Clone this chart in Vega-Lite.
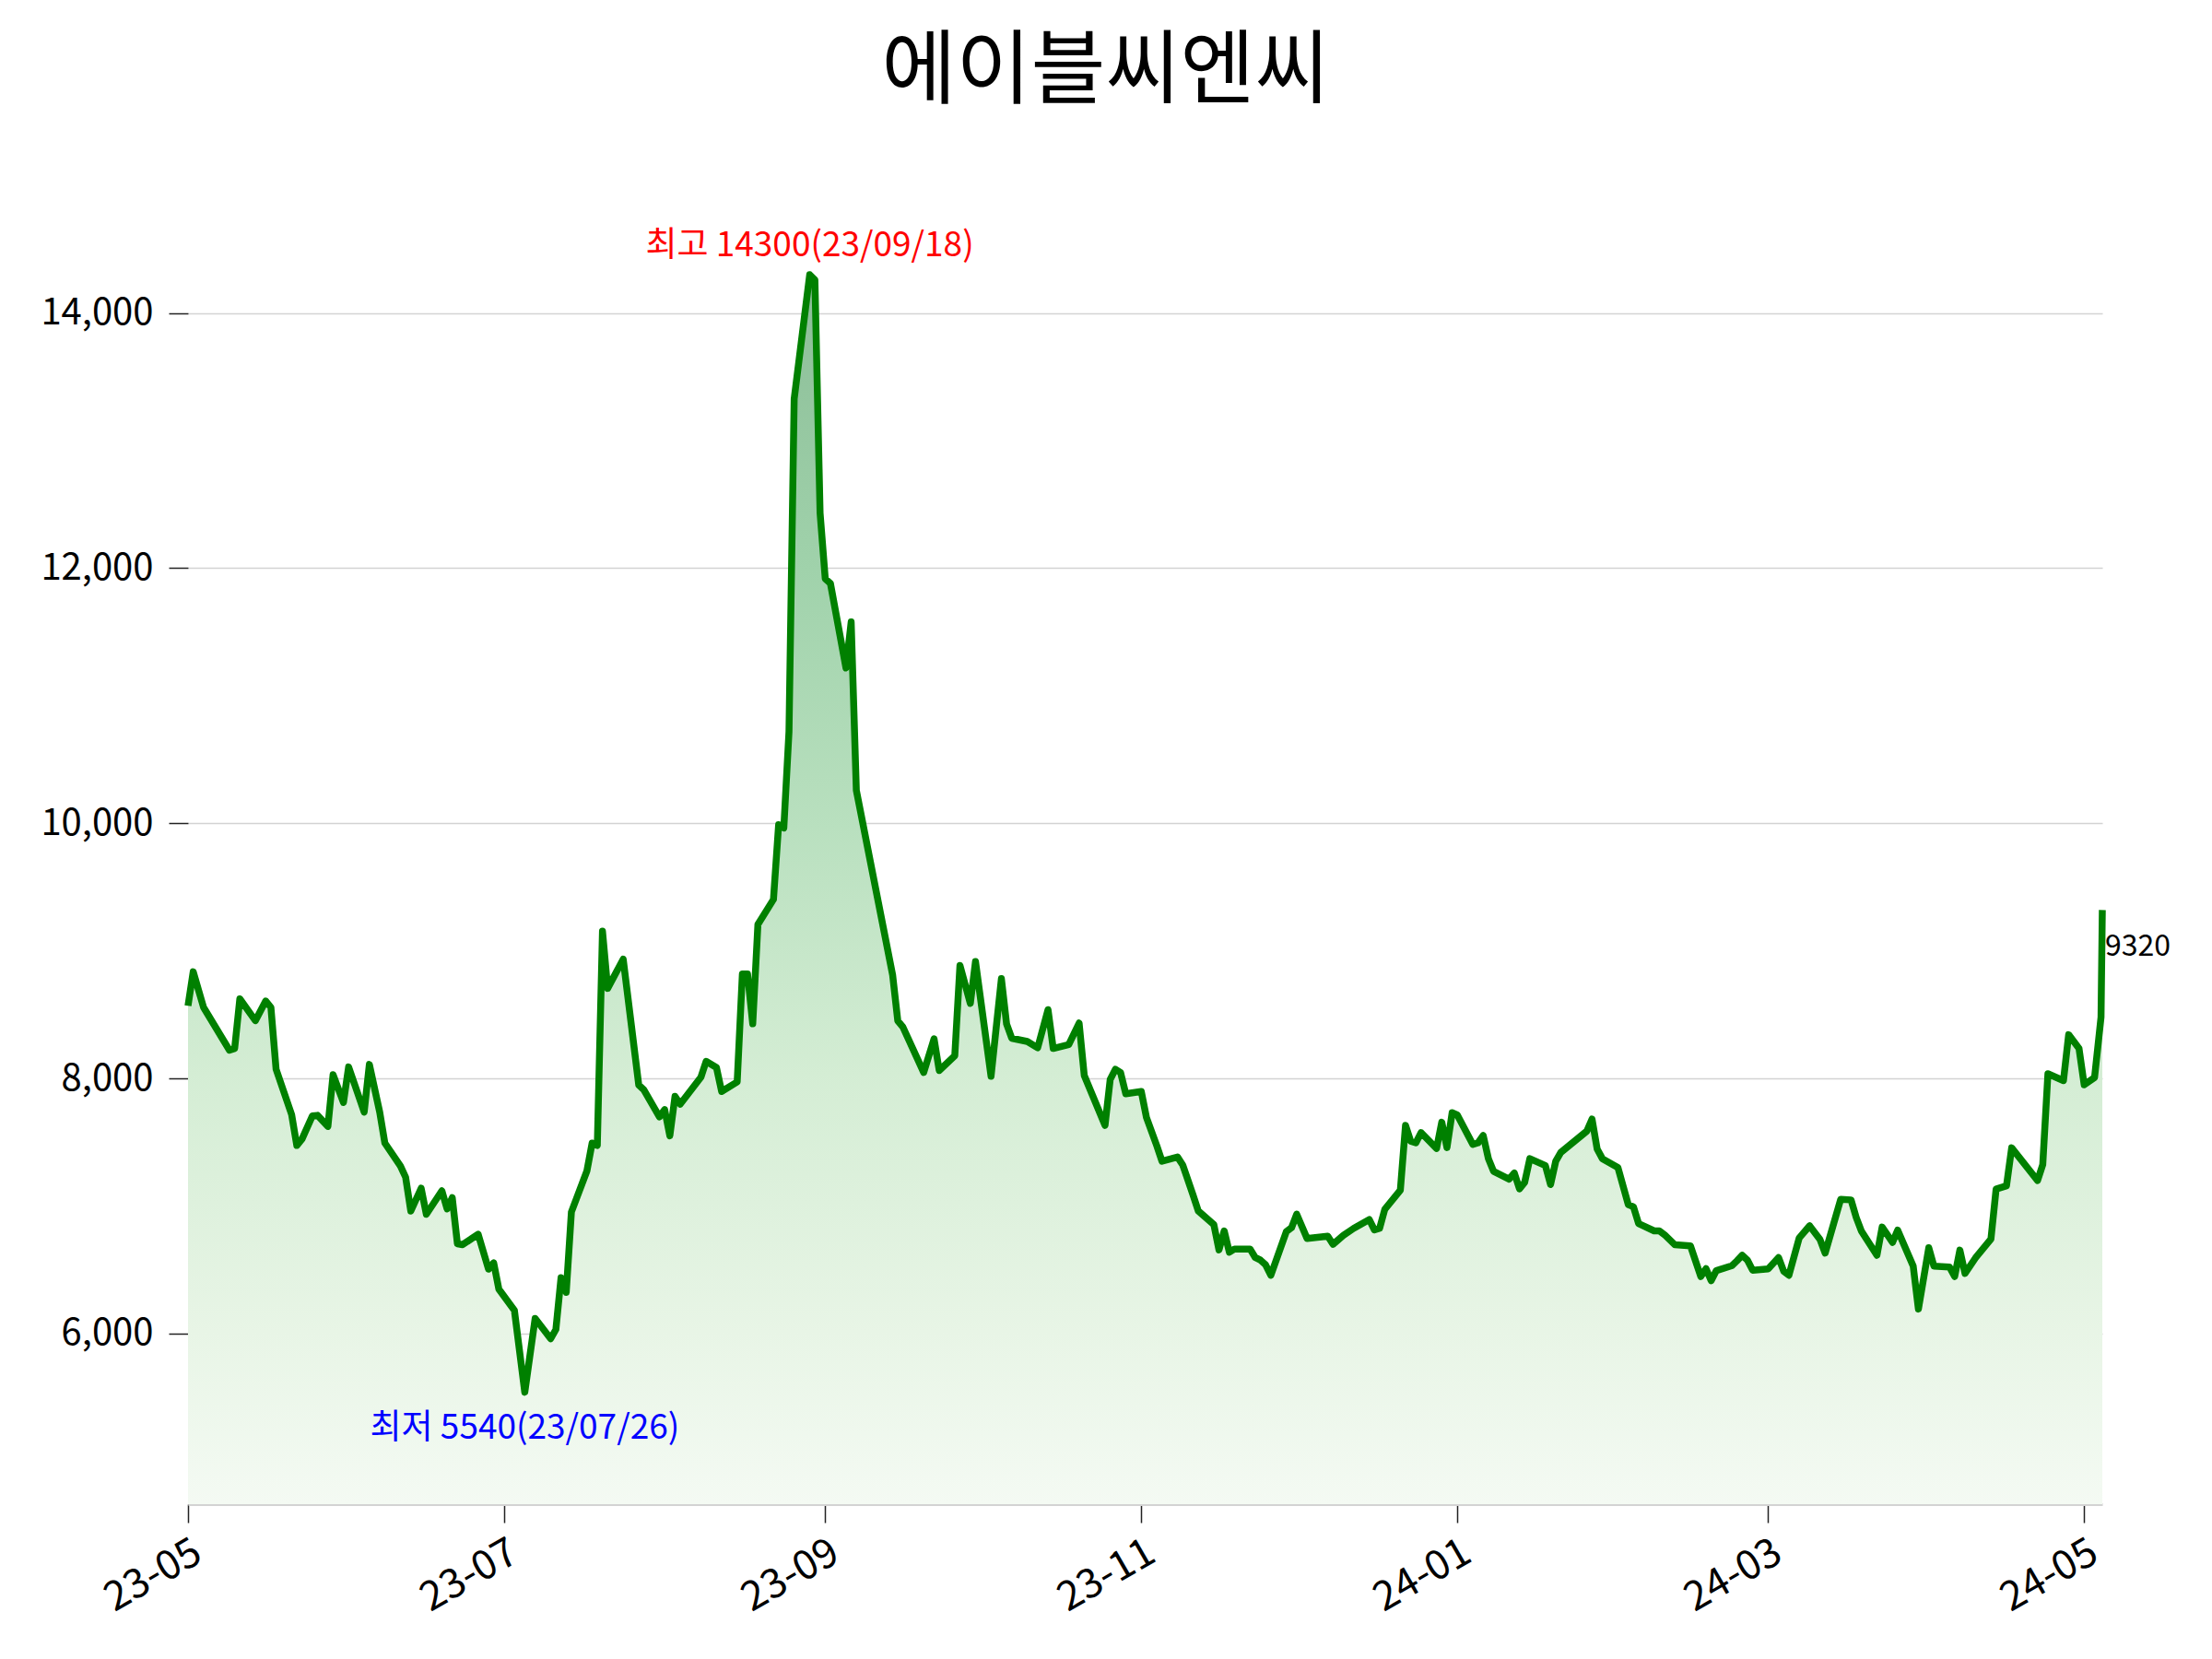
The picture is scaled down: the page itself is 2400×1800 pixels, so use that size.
{
  "$schema": "https://vega.github.io/schema/vega-lite/v6.json",
  "width": 2077,
  "height": 1417,
  "autosize": {"type": "none"},
  "padding": {"left": 204, "top": 215, "right": 119, "bottom": 168},
  "background": "white",
  "title": {
    "text": "에이블씨엔씨",
    "font": "Noto Sans CJK KR",
    "fontSize": 88,
    "fontWeight": "normal",
    "color": "black",
    "anchor": "middle",
    "frame": "bounds",
    "offset": 92
  },
  "config": {"view": {"stroke": null}, "font": "Noto Sans CJK KR"},
  "datasets": {
    "prices": [
      {"date": "2023-05-01", "price": 8570},
      {"date": "2023-05-02", "price": 8836},
      {"date": "2023-05-04", "price": 8557},
      {"date": "2023-05-09", "price": 8221},
      {"date": "2023-05-10", "price": 8234},
      {"date": "2023-05-11", "price": 8624},
      {"date": "2023-05-14", "price": 8453},
      {"date": "2023-05-16", "price": 8607},
      {"date": "2023-05-17", "price": 8557},
      {"date": "2023-05-18", "price": 8072},
      {"date": "2023-05-21", "price": 7716},
      {"date": "2023-05-22", "price": 7475},
      {"date": "2023-05-23", "price": 7525},
      {"date": "2023-05-25", "price": 7706},
      {"date": "2023-05-26", "price": 7711},
      {"date": "2023-05-28", "price": 7624},
      {"date": "2023-05-29", "price": 8030},
      {"date": "2023-05-31", "price": 7811},
      {"date": "2023-06-01", "price": 8090},
      {"date": "2023-06-04", "price": 7736},
      {"date": "2023-06-05", "price": 8110},
      {"date": "2023-06-07", "price": 7736},
      {"date": "2023-06-08", "price": 7493},
      {"date": "2023-06-11", "price": 7313},
      {"date": "2023-06-12", "price": 7226},
      {"date": "2023-06-13", "price": 6960},
      {"date": "2023-06-15", "price": 7139},
      {"date": "2023-06-16", "price": 6935},
      {"date": "2023-06-19", "price": 7119},
      {"date": "2023-06-20", "price": 6978},
      {"date": "2023-06-21", "price": 7065},
      {"date": "2023-06-22", "price": 6704},
      {"date": "2023-06-23", "price": 6697},
      {"date": "2023-06-26", "price": 6779},
      {"date": "2023-06-28", "price": 6505},
      {"date": "2023-06-29", "price": 6555},
      {"date": "2023-06-30", "price": 6348},
      {"date": "2023-07-03", "price": 6182},
      {"date": "2023-07-05", "price": 5540},
      {"date": "2023-07-07", "price": 6119},
      {"date": "2023-07-10", "price": 5960},
      {"date": "2023-07-11", "price": 6032},
      {"date": "2023-07-12", "price": 6438},
      {"date": "2023-07-13", "price": 6323},
      {"date": "2023-07-14", "price": 6953},
      {"date": "2023-07-17", "price": 7276},
      {"date": "2023-07-18", "price": 7493},
      {"date": "2023-07-19", "price": 7475},
      {"date": "2023-07-20", "price": 9154},
      {"date": "2023-07-21", "price": 8706},
      {"date": "2023-07-24", "price": 8935},
      {"date": "2023-07-27", "price": 7948},
      {"date": "2023-07-28", "price": 7910},
      {"date": "2023-07-31", "price": 7699},
      {"date": "2023-08-01", "price": 7756},
      {"date": "2023-08-02", "price": 7550},
      {"date": "2023-08-03", "price": 7860},
      {"date": "2023-08-04", "price": 7798},
      {"date": "2023-08-08", "price": 8010},
      {"date": "2023-08-09", "price": 8134},
      {"date": "2023-08-11", "price": 8085},
      {"date": "2023-08-12", "price": 7898},
      {"date": "2023-08-15", "price": 7973},
      {"date": "2023-08-16", "price": 8818},
      {"date": "2023-08-17", "price": 8818},
      {"date": "2023-08-18", "price": 8428},
      {"date": "2023-08-19", "price": 9207},
      {"date": "2023-08-22", "price": 9403},
      {"date": "2023-08-23", "price": 9989},
      {"date": "2023-08-24", "price": 9963},
      {"date": "2023-08-25", "price": 10719},
      {"date": "2023-08-26", "price": 13326},
      {"date": "2023-08-29", "price": 14300},
      {"date": "2023-08-30", "price": 14259},
      {"date": "2023-08-31", "price": 12433},
      {"date": "2023-09-01", "price": 11917},
      {"date": "2023-09-02", "price": 11880},
      {"date": "2023-09-05", "price": 11217},
      {"date": "2023-09-06", "price": 11578},
      {"date": "2023-09-07", "price": 10258},
      {"date": "2023-09-14", "price": 8812},
      {"date": "2023-09-15", "price": 8452},
      {"date": "2023-09-16", "price": 8402},
      {"date": "2023-09-20", "price": 8047},
      {"date": "2023-09-22", "price": 8310},
      {"date": "2023-09-23", "price": 8062},
      {"date": "2023-09-26", "price": 8178},
      {"date": "2023-09-27", "price": 8886},
      {"date": "2023-09-29", "price": 8588},
      {"date": "2023-09-30", "price": 8916},
      {"date": "2023-10-03", "price": 8017},
      {"date": "2023-10-05", "price": 8782},
      {"date": "2023-10-06", "price": 8427},
      {"date": "2023-10-07", "price": 8315},
      {"date": "2023-10-10", "price": 8290},
      {"date": "2023-10-12", "price": 8240},
      {"date": "2023-10-14", "price": 8539},
      {"date": "2023-10-15", "price": 8235},
      {"date": "2023-10-18", "price": 8265},
      {"date": "2023-10-20", "price": 8434},
      {"date": "2023-10-21", "price": 8022},
      {"date": "2023-10-25", "price": 7632},
      {"date": "2023-10-26", "price": 7992},
      {"date": "2023-10-27", "price": 8072},
      {"date": "2023-10-28", "price": 8047},
      {"date": "2023-10-29", "price": 7880},
      {"date": "2023-11-01", "price": 7898},
      {"date": "2023-11-02", "price": 7694},
      {"date": "2023-11-04", "price": 7471},
      {"date": "2023-11-05", "price": 7351},
      {"date": "2023-11-08", "price": 7384},
      {"date": "2023-11-09", "price": 7322},
      {"date": "2023-11-11", "price": 7085},
      {"date": "2023-11-12", "price": 6961},
      {"date": "2023-11-15", "price": 6855},
      {"date": "2023-11-16", "price": 6656},
      {"date": "2023-11-17", "price": 6805},
      {"date": "2023-11-18", "price": 6638},
      {"date": "2023-11-19", "price": 6663},
      {"date": "2023-11-22", "price": 6663},
      {"date": "2023-11-23", "price": 6596},
      {"date": "2023-11-24", "price": 6576},
      {"date": "2023-11-25", "price": 6539},
      {"date": "2023-11-26", "price": 6457},
      {"date": "2023-11-29", "price": 6800},
      {"date": "2023-11-30", "price": 6830},
      {"date": "2023-12-01", "price": 6936},
      {"date": "2023-12-03", "price": 6745},
      {"date": "2023-12-07", "price": 6763},
      {"date": "2023-12-08", "price": 6700},
      {"date": "2023-12-10", "price": 6770},
      {"date": "2023-12-12", "price": 6825},
      {"date": "2023-12-15", "price": 6894},
      {"date": "2023-12-16", "price": 6812},
      {"date": "2023-12-17", "price": 6825},
      {"date": "2023-12-18", "price": 6974},
      {"date": "2023-12-21", "price": 7123},
      {"date": "2023-12-22", "price": 7632},
      {"date": "2023-12-23", "price": 7508},
      {"date": "2023-12-24", "price": 7495},
      {"date": "2023-12-25", "price": 7575},
      {"date": "2023-12-28", "price": 7451},
      {"date": "2023-12-29", "price": 7657},
      {"date": "2023-12-30", "price": 7458},
      {"date": "2023-12-31", "price": 7731},
      {"date": "2024-01-01", "price": 7714},
      {"date": "2024-01-04", "price": 7483},
      {"date": "2024-01-05", "price": 7495},
      {"date": "2024-01-06", "price": 7553},
      {"date": "2024-01-07", "price": 7371},
      {"date": "2024-01-08", "price": 7272},
      {"date": "2024-01-11", "price": 7210},
      {"date": "2024-01-12", "price": 7259},
      {"date": "2024-01-13", "price": 7135},
      {"date": "2024-01-14", "price": 7185},
      {"date": "2024-01-15", "price": 7371},
      {"date": "2024-01-18", "price": 7317},
      {"date": "2024-01-19", "price": 7168},
      {"date": "2024-01-20", "price": 7351},
      {"date": "2024-01-21", "price": 7421},
      {"date": "2024-01-26", "price": 7587},
      {"date": "2024-01-27", "price": 7682},
      {"date": "2024-01-28", "price": 7446},
      {"date": "2024-01-29", "price": 7371},
      {"date": "2024-02-01", "price": 7302},
      {"date": "2024-02-03", "price": 7011},
      {"date": "2024-02-04", "price": 6994},
      {"date": "2024-02-05", "price": 6862},
      {"date": "2024-02-08", "price": 6805},
      {"date": "2024-02-09", "price": 6805},
      {"date": "2024-02-10", "price": 6775},
      {"date": "2024-02-12", "price": 6696},
      {"date": "2024-02-15", "price": 6688},
      {"date": "2024-02-17", "price": 6447},
      {"date": "2024-02-18", "price": 6509},
      {"date": "2024-02-19", "price": 6415},
      {"date": "2024-02-20", "price": 6494},
      {"date": "2024-02-23", "price": 6532},
      {"date": "2024-02-24", "price": 6571},
      {"date": "2024-02-25", "price": 6614},
      {"date": "2024-02-26", "price": 6576},
      {"date": "2024-02-27", "price": 6497},
      {"date": "2024-03-01", "price": 6507},
      {"date": "2024-03-03", "price": 6596},
      {"date": "2024-03-04", "price": 6489},
      {"date": "2024-03-05", "price": 6457},
      {"date": "2024-03-07", "price": 6750},
      {"date": "2024-03-09", "price": 6845},
      {"date": "2024-03-11", "price": 6738},
      {"date": "2024-03-12", "price": 6631},
      {"date": "2024-03-15", "price": 7053},
      {"date": "2024-03-17", "price": 7048},
      {"date": "2024-03-18", "price": 6910},
      {"date": "2024-03-19", "price": 6803},
      {"date": "2024-03-22", "price": 6614},
      {"date": "2024-03-23", "price": 6835},
      {"date": "2024-03-25", "price": 6715},
      {"date": "2024-03-26", "price": 6811},
      {"date": "2024-03-29", "price": 6528},
      {"date": "2024-03-30", "price": 6192},
      {"date": "2024-04-01", "price": 6673},
      {"date": "2024-04-02", "price": 6528},
      {"date": "2024-04-05", "price": 6522},
      {"date": "2024-04-06", "price": 6447},
      {"date": "2024-04-07", "price": 6654},
      {"date": "2024-04-08", "price": 6472},
      {"date": "2024-04-10", "price": 6592},
      {"date": "2024-04-13", "price": 6741},
      {"date": "2024-04-14", "price": 7133},
      {"date": "2024-04-16", "price": 7158},
      {"date": "2024-04-17", "price": 7456},
      {"date": "2024-04-22", "price": 7200},
      {"date": "2024-04-23", "price": 7324},
      {"date": "2024-04-24", "price": 8037},
      {"date": "2024-04-27", "price": 7983},
      {"date": "2024-04-28", "price": 8343},
      {"date": "2024-04-30", "price": 8236},
      {"date": "2024-05-01", "price": 7950},
      {"date": "2024-05-03", "price": 8007},
      {"date": "2024-05-04T06:00:00Z", "price": 8480},
      {"date": "2024-05-04T12:00:00Z", "price": 9320}
    ]
  },
  "data": {"name": "prices"},
  "encoding": {
    "x": {
      "field": "date",
      "type": "temporal",
      "scale": {
        "type": "utc",
        "nice": false,
        "domain": [
          {"year": 2023, "month": 5, "date": 1, "utc": true},
          {"year": 2024, "month": 5, "date": 4, "hours": 12, "utc": true}
        ]
      },
      "axis": {
        "title": null,
        "grid": false,
        "values": [
          {"year": 2023, "month": 5, "date": 1, "utc": true},
          {"year": 2023, "month": 7, "date": 1, "utc": true},
          {"year": 2023, "month": 9, "date": 1, "utc": true},
          {"year": 2023, "month": 11, "date": 1, "utc": true},
          {"year": 2024, "month": 1, "date": 1, "utc": true},
          {"year": 2024, "month": 3, "date": 1, "utc": true},
          {"year": 2024, "month": 5, "date": 1, "utc": true}
        ],
        "format": "%y-%m",
        "labelAngle": -30,
        "labelAlign": "right",
        "labelBaseline": "top",
        "labelFont": "Noto Sans CJK KR",
        "labelFontSize": 44,
        "labelColor": "black",
        "labelPadding": 10,
        "labelFlush": false,
        "labelOverlap": false,
        "tickSize": 20,
        "tickColor": "#222222",
        "tickWidth": 1.5,
        "domainColor": "#d3d3d3",
        "domainWidth": 3
      }
    },
    "y": {
      "field": "price",
      "type": "quantitative",
      "scale": {"domain": [4663, 14900], "zero": false, "nice": false},
      "axis": {
        "title": null,
        "values": [6000, 8000, 10000, 12000, 14000],
        "format": ",d",
        "labelFont": "Noto Sans CJK KR",
        "labelFontSize": 40,
        "labelColor": "black",
        "labelPadding": 17,
        "tickSize": 21,
        "tickColor": "#222222",
        "tickWidth": 1.5,
        "domain": false,
        "grid": true,
        "gridColor": "#d3d3d3",
        "gridWidth": 1.5
      }
    }
  },
  "layer": [
    {
      "mark": {
        "type": "area",
        "opacity": 1,
        "color": {
          "gradient": "linear",
          "x1": 0, "y1": 0, "x2": 0, "y2": 1,
          "stops": [
            {"offset": 0, "color": "#8bbd97"},
            {"offset": 0.24, "color": "#a0d2ab"},
            {"offset": 0.45, "color": "#b9e0bf"},
            {"offset": 0.65, "color": "#d4edd4"},
            {"offset": 0.86, "color": "#e8f5e6"},
            {"offset": 1, "color": "#f4faf3"}
          ]
        }
      },
      "encoding": {"y2": {"datum": 4663}}
    },
    {
      "mark": {"type": "line", "color": "#008000", "strokeWidth": 7.5, "strokeJoin": "round", "strokeCap": "butt"}
    },
    {
      "data": {"values": [{"date": "2023-08-29", "price": 14300, "label": "최고 14300(23/09/18)"}]},
      "mark": {"type": "text", "color": "red", "fontSize": 37, "align": "center", "baseline": "middle", "dy": -31},
      "encoding": {"text": {"field": "label"}}
    },
    {
      "data": {"values": [{"date": "2023-07-05", "price": 5540, "label": "최저 5540(23/07/26)"}]},
      "mark": {"type": "text", "color": "blue", "fontSize": 37, "align": "center", "baseline": "middle", "dy": 39},
      "encoding": {"text": {"field": "label"}}
    },
    {
      "data": {"values": [{"date": "2024-05-04T12:00:00Z", "price": 9320, "label": "9320"}]},
      "mark": {"type": "text", "color": "black", "fontSize": 32, "align": "left", "baseline": "middle", "dx": 3, "dy": 40},
      "encoding": {"text": {"field": "label"}}
    }
  ]
}
